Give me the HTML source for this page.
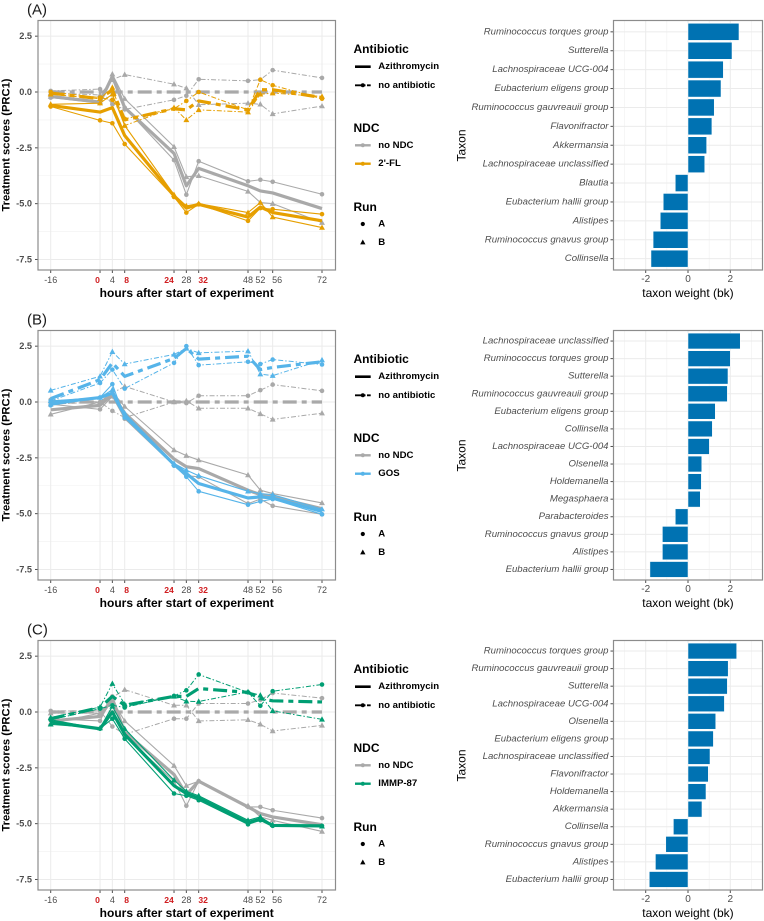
<!DOCTYPE html>
<html lang="en">
<head>
<meta charset="utf-8">
<title>Treatment scores and taxon weights</title>
<style>
html,body{margin:0;padding:0;background:#fff;}
svg{display:block;font-family:"Liberation Sans",sans-serif;filter:blur(0.35px);}
</style>
</head>
<body>
<svg id="figure" width="764" height="921" viewBox="0 0 764 921" xmlns="http://www.w3.org/2000/svg"></svg>
<script>
/* ---------- shared axis data ---------- */
const hours = [-16,0,4,8,24,28,32,48,52,56,72];
const hourLabels = ['-16','0','4','8','24','28','32','48','52','56','72'];
const highlightedHours = [0,8,24,32];
const scoreTicks = [2.5,0,-2.5,-5,-7.5];
const scoreTickLabels = ['2.5','0.0','-2.5','-5.0','-7.5'];
const scoreMinorTicks = [1.25,-1.25,-3.75,-6.25];
const weightTicks = [-2,0,2];
const weightMinorTicks = [-3,-1,1,3];

/* ---------- panel A series ---------- */
const aGrayAbxRunA = [-0.25,-0.5,0.6,-0.7,-3.05,-4.6,-3.1,-4.0,-3.93,-4.02,-4.58];
const aGrayAbxRunB = [-0.2,-0.45,0.8,-0.3,-2.45,-3.8,-3.75,-4.45,-4.95,-5.0,-5.85];
const aGrayAbxMean = [-0.2,-0.45,0.7,-0.7,-2.75,-4.2,-3.42,-4.2,-4.43,-4.52,-5.22];
const aGrayCtlRunA = [0.05,0.13,-0.55,-0.78,-0.35,-0.17,0.57,0.5,0.55,0.98,0.63];
const aGrayCtlRunB = [-0.05,-0.13,0.55,0.78,0.35,0.17,-0.57,-0.5,-0.55,-0.98,-0.63];
const aGrayCtlMean = [0,0,0,0,0,0,0,0,0,0,0];
const aColorAbxRunA = [-0.65,-1.27,-1.4,-2.33,-4.7,-5.4,-5.03,-5.77,-5.2,-5.25,-5.47];
const aColorAbxRunB = [-0.55,-0.5,-0.1,-1.5,-4.6,-5.1,-5.0,-5.4,-4.95,-5.6,-6.07];
const aColorAbxMean = [-0.6,-0.9,-0.7,-1.95,-4.65,-5.2,-5.03,-5.6,-5.15,-5.4,-5.77];
const aColorCtlRunA = [0,-0.25,-0.35,-1.2,-0.75,-0.4,0,-0.8,0.55,0.3,-0.3];
const aColorCtlRunB = [-0.1,-0.3,0.2,-1.5,-0.7,-1.25,-0.8,-0.9,-0.1,-0.05,-0.2];
const aColorCtlMean = [-0.05,-0.3,0.1,-1.25,-0.75,-0.8,-0.4,-0.8,0.1,0.1,-0.25];
const aTaxa = ['Ruminococcus torques group','Sutterella','Lachnospiraceae UCG-004','Eubacterium eligens group','Ruminococcus gauvreauii group','Flavonifractor','Akkermansia','Lachnospiraceae unclassified','Blautia','Eubacterium hallii group','Alistipes','Ruminococcus gnavus group','Collinsella'];
const aWeights = [2.41,2.08,1.67,1.56,1.24,1.13,0.88,0.79,-0.6,-1.17,-1.31,-1.65,-1.75];

/* ---------- panel B series ---------- */
const bGrayAbxRunA = [-0.1,-0.33,0.25,-0.75,-2.85,-3.3,-3.35,-4.55,-4.35,-4.65,-5.03];
const bGrayAbxRunB = [-0.55,0,0.45,-0.2,-2.15,-2.4,-2.6,-3.27,-3.95,-4.1,-4.52];
const bGrayAbxMean = [-0.35,-0.15,0.35,-0.5,-2.55,-2.9,-2.98,-3.95,-4.15,-4.25,-4.78];
const bGrayCtlRunA = [0.1,0,-0.4,-0.7,0,-0.05,0.28,0.28,0.53,0.78,0.5];
const bGrayCtlRunB = [-0.1,0,0.4,0.7,0,0.05,-0.28,-0.28,-0.53,-0.78,-0.5];
const bGrayCtlMean = [0,0,0,0,0,0,0,0,0,0,0];
const bColorAbxRunA = [-0.15,0.2,0.8,-0.7,-2.85,-3.35,-4.0,-4.6,-4.45,-4.35,-5.03];
const bColorAbxRunB = [0.05,0.2,0.55,-0.5,-2.75,-3.05,-3.3,-4.0,-4.1,-4.15,-4.8];
const bColorAbxMean = [-0.05,0.2,0.4,-0.6,-2.8,-3.2,-3.65,-4.3,-4.25,-4.3,-4.9];
const bColorCtlRunA = [0.05,0.85,1.45,0.6,1.75,2.5,1.65,1.8,1.7,1.9,1.68];
const bColorCtlRunB = [0.52,1.15,2.25,1.7,2.13,2.4,2.2,2.28,1.25,1.18,1.88];
const bColorCtlMean = [0.15,1.0,1.75,1.15,1.95,2.4,1.92,2.05,1.45,1.55,1.8];
const bTaxa = ['Lachnospiraceae unclassified','Ruminococcus torques group','Sutterella','Ruminococcus gauvreauii group','Eubacterium eligens group','Collinsella','Lachnospiraceae UCG-004','Olsenella','Holdemanella','Megasphaera','Parabacteroides','Ruminococcus gnavus group','Alistipes','Eubacterium hallii group'];
const bWeights = [2.47,2.0,1.89,1.86,1.29,1.15,1.01,0.65,0.63,0.58,-0.6,-1.21,-1.21,-1.8];

/* ---------- panel C series ---------- */
const cGrayAbxRunA = [-0.3,-0.4,0.7,-1.05,-3.1,-4.2,-3.1,-4.25,-4.25,-4.4,-4.75];
const cGrayAbxRunB = [-0.5,-0.05,0.5,-0.4,-2.4,-3.3,-3.1,-4.2,-4.7,-4.85,-5.35];
const cGrayAbxMean = [-0.4,-0.2,0.6,-0.9,-2.8,-3.7,-3.1,-4.25,-4.55,-4.7,-5.05];
const cGrayCtlRunA = [0.05,0.05,-0.65,-1.0,-0.3,-0.3,0.38,0.38,0.55,0.85,0.62];
const cGrayCtlRunB = [-0.05,-0.05,0.65,1.0,0.3,0.3,-0.4,-0.35,-0.55,-0.85,-0.6];
const cGrayCtlMean = [0,0,0,0,0,0,0,0,0,0,0];
const cColorAbxRunA = [-0.35,-0.75,-0.3,-1.2,-3.65,-3.75,-3.95,-5.03,-4.85,-5.1,-5.1];
const cColorAbxRunB = [-0.55,-0.72,0.25,-0.75,-3.05,-3.55,-3.75,-4.85,-4.7,-5.05,-5.12];
const cColorAbxMean = [-0.45,-0.75,0,-1.0,-3.3,-3.65,-3.85,-4.95,-4.8,-5.08,-5.1];
const cColorCtlRunA = [-0.35,0.15,0.3,0.2,0.72,0.97,1.68,0.88,0.28,0.93,1.23];
const cColorCtlRunB = [-0.25,0.22,1.27,0.35,0.7,0.48,0.47,0.9,0.75,0.05,-0.33];
const cColorCtlMean = [-0.3,0.2,0.7,0.3,0.7,0.7,1.05,0.88,0.6,0.5,0.45];
const cTaxa = ['Ruminococcus torques group','Ruminococcus gauvreauii group','Sutterella','Lachnospiraceae UCG-004','Olsenella','Eubacterium eligens group','Lachnospiraceae unclassified','Flavonifractor','Holdemanella','Akkermansia','Collinsella','Ruminococcus gnavus group','Alistipes','Eubacterium hallii group'];
const cWeights = [2.3,1.9,1.86,1.72,1.31,1.2,1.04,0.96,0.85,0.66,-0.69,-1.05,-1.54,-1.83];

/* ---------- panel registry ---------- */
const panels = [
  {id:'a',letter:'(A)',ndc:"2'-FL",color:'#E69F00',
   gray:[aGrayAbxRunA,aGrayAbxRunB,aGrayAbxMean,aGrayCtlRunA,aGrayCtlRunB,aGrayCtlMean],
   col:[aColorAbxRunA,aColorAbxRunB,aColorAbxMean,aColorCtlRunA,aColorCtlRunB,aColorCtlMean],
   taxa:aTaxa,weights:aWeights},
  {id:'b',letter:'(B)',ndc:'GOS',color:'#56B4E9',
   gray:[bGrayAbxRunA,bGrayAbxRunB,bGrayAbxMean,bGrayCtlRunA,bGrayCtlRunB,bGrayCtlMean],
   col:[bColorAbxRunA,bColorAbxRunB,bColorAbxMean,bColorCtlRunA,bColorCtlRunB,bColorCtlMean],
   taxa:bTaxa,weights:bWeights},
  {id:'c',letter:'(C)',ndc:'IMMP-87',color:'#009E73',
   gray:[cGrayAbxRunA,cGrayAbxRunB,cGrayAbxMean,cGrayCtlRunA,cGrayCtlRunB,cGrayCtlMean],
   col:[cColorAbxRunA,cColorAbxRunB,cColorAbxMean,cColorCtlRunA,cColorCtlRunB,cColorCtlMean],
   taxa:cTaxa,weights:cWeights}
];

/* ---------- layout ---------- */
const GRAY = '#A9A9A9';
const PANEL_STEP = 310;
const L = {x0:38, x1:335.5, top:20.5, bottom:270};
const R = {x0:613.5, x1:762.5};
const xHour = h => 50.7 + (h + 16) * 3.083;
const yScore = v => 92 - v * 22.33;
const xWeight = w => 688 + w * 21.15;
/* hand-placed label shift used by the source figure to avoid overlaps */
const labelShift = h => ({0:-2.5, 8:2, 24:-5, 32:4.5, 56:4.5}[h] || 0);

const svg = document.getElementById('figure');
const NS = 'http://www.w3.org/2000/svg';
function mk(tag, parent, props) {
  const el = document.createElementNS(NS, tag);
  for (const k in props) el.setAttribute(k, props[k]);
  parent.appendChild(el);
  return el;
}
function label(parent, x, y, str, props) {
  const el = mk('text', parent, Object.assign({x:x, y:y, 'dominant-baseline':'central'}, props));
  el.textContent = str;
  return el;
}
function tri(cx, cy, s) {
  return (cx) + ',' + (cy - s) + ' ' + (cx + s * 0.95) + ',' + (cy + s * 0.72) + ' ' + (cx - s * 0.95) + ',' + (cy + s * 0.72);
}

function drawTrace(parent, values, color, width, dash, marker, name) {
  const pts = values.map((v, i) => xHour(hours[i]) + ',' + yScore(v)).join(' ');
  const line = mk('polyline', parent, {points:pts, fill:'none', stroke:color, 'stroke-width':width, 'stroke-linejoin':'round'});
  if (dash) line.setAttribute('stroke-dasharray', dash);
  
  
  values.forEach((v, i) => {
    let m = null;
    if (marker === 'dot') {
      m = mk('circle', parent, {cx:xHour(hours[i]), cy:yScore(v), r:2.3, fill:color});
    } else if (marker === 'tri') {
      m = mk('polygon', parent, {points:tri(xHour(hours[i]), yScore(v), 3.1), fill:color});
    }
    if (m) {
      
      
    }
  });
}

function drawGroup(parent, set, color, prefix) {
  const thin = '5 2 1.5 2';
  const thick = '14 5 5 5';
  drawTrace(parent, set[3], color, 1, thin, 'dot', prefix + '-no-antibiotic-run-a');
  drawTrace(parent, set[4], color, 1, thin, 'tri', prefix + '-no-antibiotic-run-b');
  drawTrace(parent, set[5], color, 3.2, thick, null, prefix + '-no-antibiotic-mean');
  drawTrace(parent, set[0], color, 1.1, null, 'dot', prefix + '-azithromycin-run-a');
  drawTrace(parent, set[1], color, 1.1, null, 'tri', prefix + '-azithromycin-run-b');
  drawTrace(parent, set[2], color, 3.2, null, null, prefix + '-azithromycin-mean');
}

function drawScorePanel(root, p) {
  const g = mk('g', root, {});
  
  

  const title = label(g, 27, 10, p.letter, {'font-size':15, fill:'#1a1a1a'});
  
  

  scoreMinorTicks.forEach(v => {
    const ln = mk('line', g, {x1:L.x0, x2:L.x1, y1:yScore(v), y2:yScore(v), stroke:'#f0f0f0', 'stroke-width':0.6});
    
    
  });
  scoreTicks.forEach((v, i) => {
    const ln = mk('line', g, {x1:L.x0, x2:L.x1, y1:yScore(v), y2:yScore(v), stroke:'#ebebeb', 'stroke-width':1});
    
    
    const tk = mk('line', g, {x1:L.x0 - 3, x2:L.x0, y1:yScore(v), y2:yScore(v), stroke:'#4d4d4d', 'stroke-width':1});
    
    
    const t = label(g, L.x0 - 6, yScore(v), scoreTickLabels[i], {'font-size':9.2, 'font-weight':'bold', fill:'#4d4d4d', 'text-anchor':'end'});
    
    
  });
  hours.forEach((h, i) => {
    const ln = mk('line', g, {x1:xHour(h), x2:xHour(h), y1:L.top, y2:L.bottom, stroke:'#ebebeb', 'stroke-width':1});
    
    
    const tk = mk('line', g, {x1:xHour(h), x2:xHour(h), y1:L.bottom, y2:L.bottom + 3, stroke:'#4d4d4d', 'stroke-width':1});
    
    
    const hot = highlightedHours.indexOf(h) >= 0;
    const t = label(g, xHour(h) + labelShift(h), 280, hourLabels[i], {'font-size':hot ? 8.6 : 9, 'font-weight':hot ? 'bold' : 'normal', fill:hot ? '#D01C1F' : '#4d4d4d', 'text-anchor':'middle'});
    
    
  });

  const traces = mk('g', g, {});
  
  
  drawGroup(traces, p.gray, GRAY, 'no-ndc');
  drawGroup(traces, p.col, p.color, 'ndc');

  const box = mk('rect', g, {x:L.x0, y:L.top, width:L.x1 - L.x0, height:L.bottom - L.top, fill:'none', stroke:'#8c8c8c', 'stroke-width':1.2});
  
  

  const xt = label(g, 186.7, 293, 'hours after start of experiment', {'font-size':12, 'font-weight':'bold', fill:'#000', 'text-anchor':'middle'});
  
  
  const yt = label(g, 0, 0, 'Treatment scores (PRC1)', {'font-size':11.2, 'font-weight':'bold', fill:'#000', 'text-anchor':'middle', transform:'translate(6.5,145) rotate(-90)'});
  
  
}

function legendKey(g, y, color, width, dash, withDot) {
  const ln = mk('line', g, {x1:355, x2:370.7, y1:y, y2:y, stroke:color, 'stroke-width':width});
  if (dash) ln.setAttribute('stroke-dasharray', dash);
  
  
  if (withDot) {
    const d = mk('circle', g, {cx:362.8, cy:y, r:2, fill:color});
    
    
  }
}

function drawLegend(root, p) {
  const g = mk('g', root, {});
  
  
  const heads = [['Antibiotic',49],['NDC',128],['Run',207]];
  heads.forEach(h => {
    const t = label(g, 353.5, h[1], h[0], {'font-size':12, 'font-weight':'bold', fill:'#000'});
    
    
  });
  const items = [['Azithromycin',66.7],['no antibiotic',85.3],['no NDC',145.3],[p.ndc,163.7],['A',224],['B',242.3]];
  items.forEach(it => {
    const t = label(g, 378.3, it[1], it[0], {'font-size':9.6, 'font-weight':'bold', fill:'#000'});
    
    
  });
  legendKey(g, 66.7, '#000', 2.6, null, false);
  legendKey(g, 85.3, '#000', 1.8, '6 1.5 3 1.5', true);
  legendKey(g, 145.3, GRAY, 2.4, null, true);
  legendKey(g, 163.7, p.color, 2.4, null, true);
  const d = mk('circle', g, {cx:362.8, cy:224, r:2.1, fill:'#000'});
  
  
  const m = mk('polygon', g, {points:tri(362.8, 242.3, 2.8), fill:'#000'});
  
  
}

function drawWeightPanel(root, p) {
  const g = mk('g', root, {});
  
  
  const n = p.taxa.length;
  const band = (L.bottom - L.top) / (n - 1 + 1.2);
  const yRow = i => L.top + band * (0.6 + i);

  weightMinorTicks.forEach(w => {
    const ln = mk('line', g, {x1:xWeight(w), x2:xWeight(w), y1:L.top, y2:L.bottom, stroke:'#f0f0f0', 'stroke-width':0.6});
    
    
  });
  weightTicks.forEach(w => {
    const ln = mk('line', g, {x1:xWeight(w), x2:xWeight(w), y1:L.top, y2:L.bottom, stroke:'#ebebeb', 'stroke-width':1});
    
    
    const tk = mk('line', g, {x1:xWeight(w), x2:xWeight(w), y1:L.bottom, y2:L.bottom + 3, stroke:'#4d4d4d', 'stroke-width':1});
    
    
    const t = label(g, xWeight(w), 279.5, String(w), {'font-size':10, fill:'#4d4d4d', 'text-anchor':'middle'});
    
    
  });
  p.taxa.forEach((name, i) => {
    const y = yRow(i);
    const ln = mk('line', g, {x1:R.x0, x2:R.x1, y1:y, y2:y, stroke:'#ebebeb', 'stroke-width':1});
    
    
    const tk = mk('line', g, {x1:R.x0 - 3, x2:R.x0, y1:y, y2:y, stroke:'#4d4d4d', 'stroke-width':1});
    
    
    const t = label(g, R.x0 - 5, y, name, {'font-size':9.6, 'font-style':'italic', fill:'#4d4d4d', 'text-anchor':'end'});
    
    
  });
  p.weights.forEach((w, i) => {
    const h = band * 0.9;
    const x = Math.min(xWeight(0), xWeight(w));
    const bar = mk('rect', g, {x:x, y:yRow(i) - h / 2, width:Math.abs(xWeight(w) - xWeight(0)), height:h, fill:'#0072B2', stroke:'#fff', 'stroke-width':0.5});
    
    
  });
  const box = mk('rect', g, {x:R.x0, y:L.top, width:R.x1 - R.x0, height:L.bottom - L.top, fill:'none', stroke:'#8c8c8c', 'stroke-width':1.2});
  
  
  const xt = label(g, 688, 293, 'taxon weight (bk)', {'font-size':12, fill:'#000', 'text-anchor':'middle'});
  
  
  const yt = label(g, 0, 0, 'Taxon', {'font-size':12, fill:'#000', 'text-anchor':'middle', transform:'translate(461.7,145.5) rotate(-90)'});
  
  
}

panels.forEach((p, i) => {
  const root = mk('g', svg, {transform:'translate(0,' + (i * PANEL_STEP) + ')'});
  
  
  drawScorePanel(root, p);
  drawLegend(root, p);
  drawWeightPanel(root, p);
});
</script>
</body>
</html>
